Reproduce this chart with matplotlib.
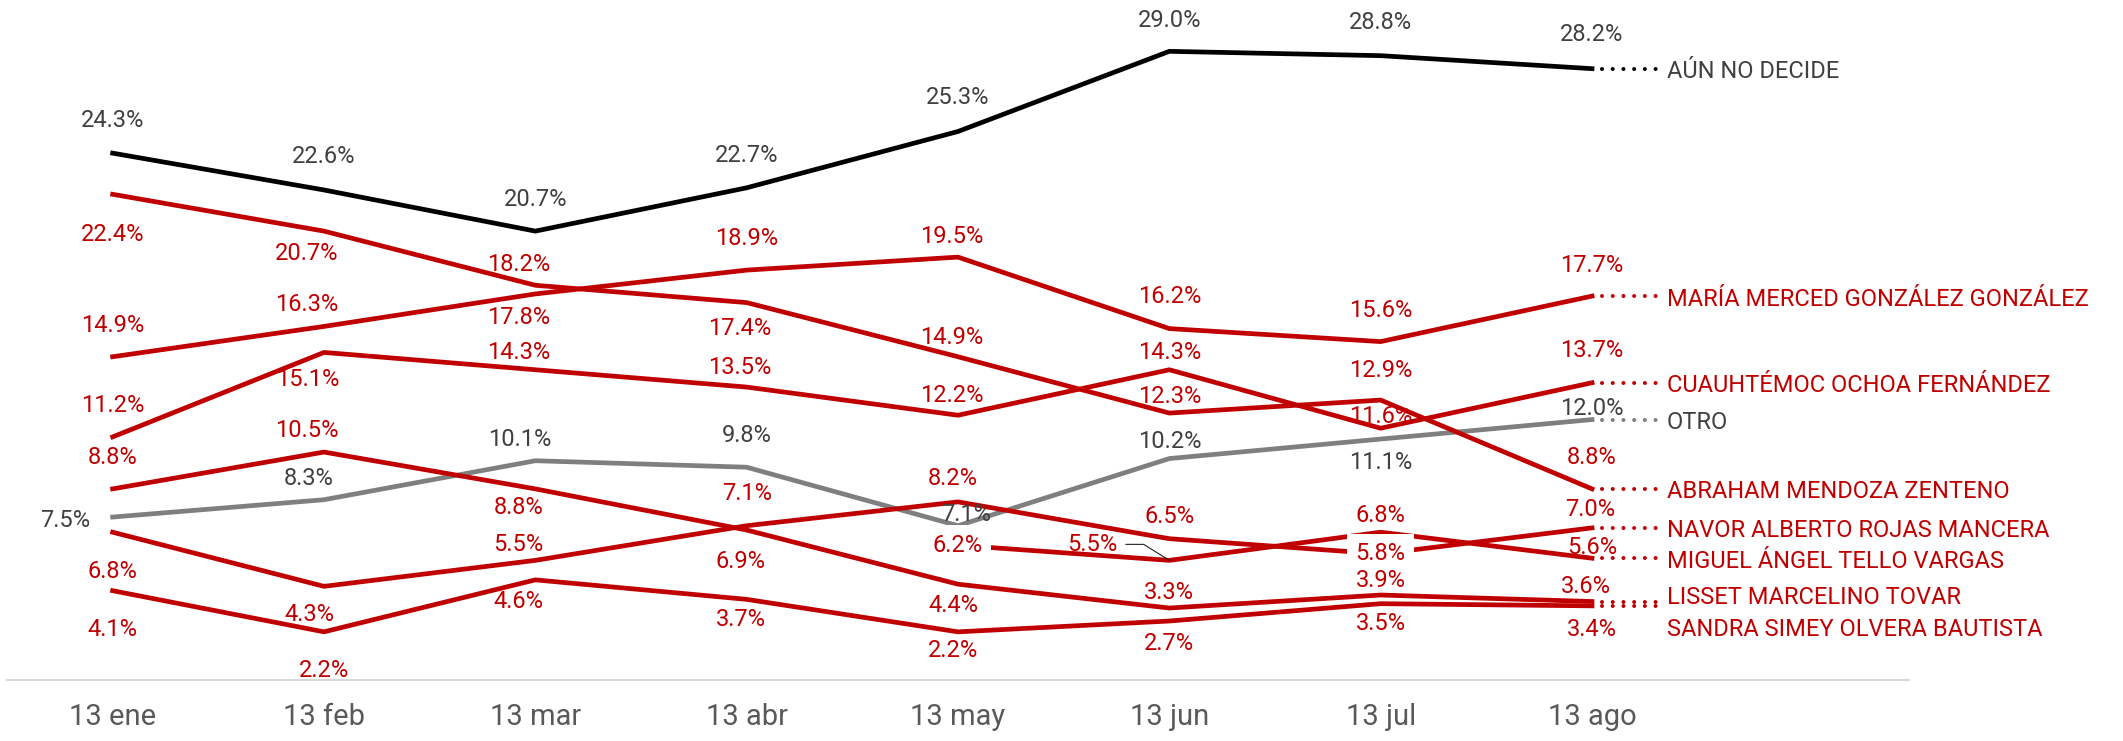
import matplotlib.pyplot as plt
import numpy as np

plt.rcParams['font.family'] = ['Roboto', 'DejaVu Sans']

# datos (% por mes)
meses = ['13 ene', '13 feb', '13 mar', '13 abr', '13 may', '13 jun', '13 jul', '13 ago']
aun_no_decide = [24.3, 22.6, 20.7, 22.7, 25.3, 29.0, 28.8, 28.2]
maria = [14.9, 16.3, 17.8, 18.9, 19.5, 16.2, 15.6, 17.7]
cuauhtemoc = [11.2, 15.1, 14.3, 13.5, 12.2, 14.3, 11.6, 13.7]
otro = [7.5, 8.3, 10.1, 9.8, 7.1, 10.2, 11.1, 12.0]
abraham = [22.4, 20.7, 18.2, 17.4, 14.9, 12.3, 12.9, 8.8]
navor = [6.8, 4.3, 5.5, 7.1, 8.2, 6.5, 5.8, 7.0]
miguel = [np.nan, np.nan, np.nan, np.nan, 6.2, 5.5, 6.8, 5.6]
lisset = [8.8, 10.5, 8.8, 6.9, 4.4, 3.3, 3.9, 3.6]
sandra = [4.1, 2.2, 4.6, 3.7, 2.2, 2.7, 3.5, 3.4]

ROJO = '#c00000'
NEGRO = '#000000'
GRIS = '#7f7f7f'
TXT = '#404040'

# (nombre, valores, color linea, color texto, dx etiquetas, dy etiquetas, dy nombre)
series = [
    ('AÚN NO DECIDE', aun_no_decide, NEGRO, TXT,
     [0, 0, 0, 0, 0, 0, 0, 0], [33, 33, 32, 32, 34, 31, 33, 34], -3),
    ('MARÍA MERCED GONZÁLEZ GONZÁLEZ', maria, ROJO, ROJO,
     [0, -17, -17, 0, -6, 0, 0, 0], [31, 22, -24, 32, 21, 32, 31, 31], -3),
    ('CUAUHTÉMOC OCHOA FERNÁNDEZ', cuauhtemoc, ROJO, ROJO,
     [0, -16, -17, -7, -6, 0, 0, 0], [31, -27, 17, 20, 20, 17, 12, 32], -3),
    ('OTRO', otro, GRIS, TXT,
     [-47, -15, -16, 0, 8, 0, 0, 0], [-3, 21, 21, 32, 11, 17, -23, 11], -3),
    ('ABRAHAM MENDOZA ZENTENO', abraham, ROJO, ROJO,
     [0, -17, -17, -7, -6, 0, 0, 0], [-40, -22, 21, -26, 19, 17, 30, 31], -3),
    ('NAVOR ALBERTO ROJAS MANCERA', navor, ROJO, ROJO,
     [0, -15, -17, 0, -5, 0, 0, -2], [-39, -28, 16, 32, 23, 22, 0, 18], -3),
    ('MIGUEL ÁNGEL TELLO VARGAS', miguel, ROJO, ROJO,
     [0, 0, 0, 0, 0, -77, 0, 0], [0, 0, 0, 0, 0, 16, 17, 11], -3),
    ('LISSET MARCELINO TOVAR', lisset, ROJO, ROJO,
     [0, -17, -17, -6, -5, 0, 0, -6], [31, 22, -19, -31, -21, 16, 15, 15], 4),
    ('SANDRA SIMEY OLVERA BAUTISTA', sandra, ROJO, ROJO,
     [0, 0, -17, -6, -5, 0, 0, 0], [-39, -39, -22, -20, -19, -22, -20, -24], -24),
]

x = np.arange(len(meses))

fig = plt.figure(figsize=(21.23, 7.41), dpi=100)
ax = fig.add_axes([7 / 2123, 61.5 / 741, 1902 / 2123, 679.5 / 741])

for nombre, vals, col, tcol, dxs, dys, dyn in series:
    ax.plot(x, vals, color=col, lw=3.4, zorder=3)
    for i, v in enumerate(vals):
        if np.isnan(v):
            continue
        caja = None
        # etiquetas que tapan la linea
        if (nombre.startswith('MIGUEL') and i == 4) or (nombre.startswith('NAVOR') and i == 6):
            caja = dict(boxstyle='square,pad=0.35', fc='white', ec='none')
        if nombre.startswith('MIGUEL') and i == 5:
            ax.annotate(f'{v:.1f}%', (x[i], v), xytext=(dxs[i], dys[i]),
                        textcoords='offset pixels', ha='center', va='center',
                        fontsize=17, color=tcol, zorder=6,
                        arrowprops=dict(arrowstyle='-', color='#222222', lw=0.8,
                                        relpos=(1, 0.5), shrinkA=4, shrinkB=0,
                                        connectionstyle='angle,angleA=0,angleB=-32,rad=0'))
            continue
        ax.annotate(f'{v:.1f}%', (x[i], v), xytext=(dxs[i], dys[i]),
                    textcoords='offset pixels', ha='center', va='center',
                    fontsize=17, color=tcol, zorder=6, bbox=caja)
    # puntos hacia el nombre
    ax.plot([7.045, 7.31], [vals[-1], vals[-1]], color=col, lw=2.9,
            linestyle=(0, (0.01, 2.65)), dash_capstyle='round', zorder=3, clip_on=False)
    ax.annotate(nombre, (x[-1], vals[-1]), xytext=(75, dyn), textcoords='offset pixels',
                ha='left', va='center', fontsize=17, color=tcol, annotation_clip=False)

ax.set_xlim(-0.5, 8.5)
ax.set_ylim(0, 31.37)
ax.set_xticks(x, meses)
ax.tick_params(axis='x', length=0, pad=17, labelsize=21, labelcolor='#595959')
ax.set_yticks([])
for s in ['top', 'left', 'right']:
    ax.spines[s].set_visible(False)
ax.spines['bottom'].set_color('#d9d9d9')
ax.spines['bottom'].set_linewidth(1.5)

fig.savefig('out.png', dpi=100)
